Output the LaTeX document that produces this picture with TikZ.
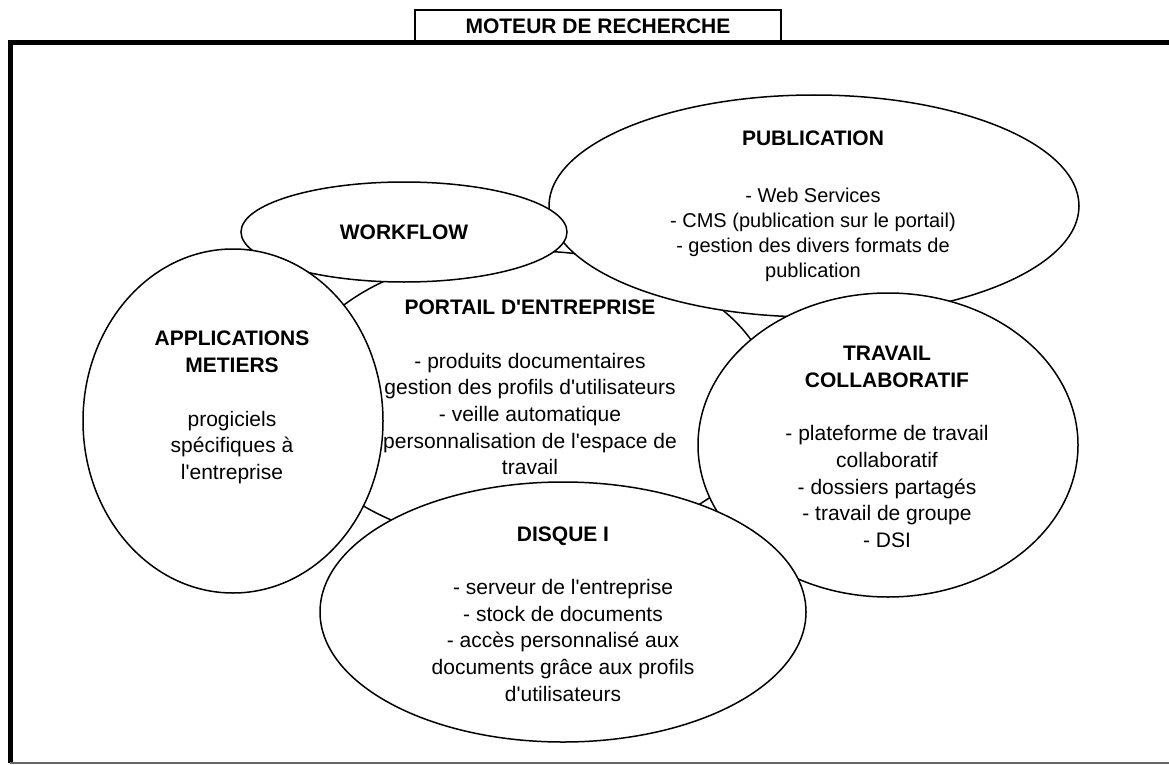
\documentclass[tikz,border=0pt]{standalone}
\usepackage{fontspec}
\setmainfont{Liberation Sans}[Ligatures=TeXOff]
\usetikzlibrary{shapes}

\begin{document}
\begin{tikzpicture}[x=1pt,y=-1pt]
    \tikzstyle{every node} = [align=center,font=\fontsize{21}{26.7}\selectfont]
    \tikzstyle{bulle} = [draw,shape=ellipse,fill=white,line width=1.5pt,inner sep=0pt]
    \useasboundingbox (0,0) rectangle (1169,765);

    \node[draw,line width=1.2pt,minimum width=366pt,minimum height=33pt] (moteur) at (598,26.5) {\textbf{MOTEUR DE RECHERCHE}};
    \draw[line width=5pt] (1169,43) -- (10,43) -- (10,763);
    \draw[line width=1.2pt,black!60] (10,763) -- (1169,763);

    \node[bulle,minimum width=482pt,minimum height=296pt] (portail) at (530,399) {};
    \node[bulle,minimum width=530pt,minimum height=222pt] (publi) at (814,206) {};
    \node[bulle,minimum width=326pt,minimum height=100pt] (workflow) at (404,232) {\textbf{WORKFLOW}};
    \node[bulle,minimum width=300pt,minimum height=344pt] (appli) at (233,421) {};
    \node[bulle,minimum width=380pt,minimum height=304pt] (travail) at (888,445) {};
    \node[bulle,minimum width=486pt,minimum height=260pt] (disque) at (563,612) {};

    \node (portailtxt) at (530,387.5) {\textbf{PORTAIL D'ENTREPRISE}\\[26.7pt]
        - produits documentaires\\ gestion des profils d'utilisateurs\\
        - veille automatique\\ personnalisation de l'espace de\\ travail};
    \node[font=\fontsize{20}{25}\selectfont] (publitxt) at (813,206) {{\fontsize{21}{25}\selectfont\textbf{PUBLICATION}}\\[32pt]
        - Web Services\\ - CMS (publication sur le portail)\\
        - gestion des divers formats de\\ publication};
    \node (applitxt) at (232,407.5) {\textbf{APPLICATIONS}\\ \textbf{METIERS}\\[26.7pt]
        progiciels\\ spécifiques à\\ l'entreprise};
    \node (travailtxt) at (887,447) {\textbf{TRAVAIL}\\ \textbf{COLLABORATIF}\\[26.7pt]
        - plateforme de travail\\ collaboratif\\ - dossiers partagés\\
        - travail de groupe\\ - DSI};
    \node (disquetxt) at (563,614) {\textbf{DISQUE I}\\[26.7pt]
        - serveur de l'entreprise\\ - stock de documents\\
        - accès personnalisé aux\\ documents grâce aux profils\\ d'utilisateurs};

\end{tikzpicture}
\end{document}
